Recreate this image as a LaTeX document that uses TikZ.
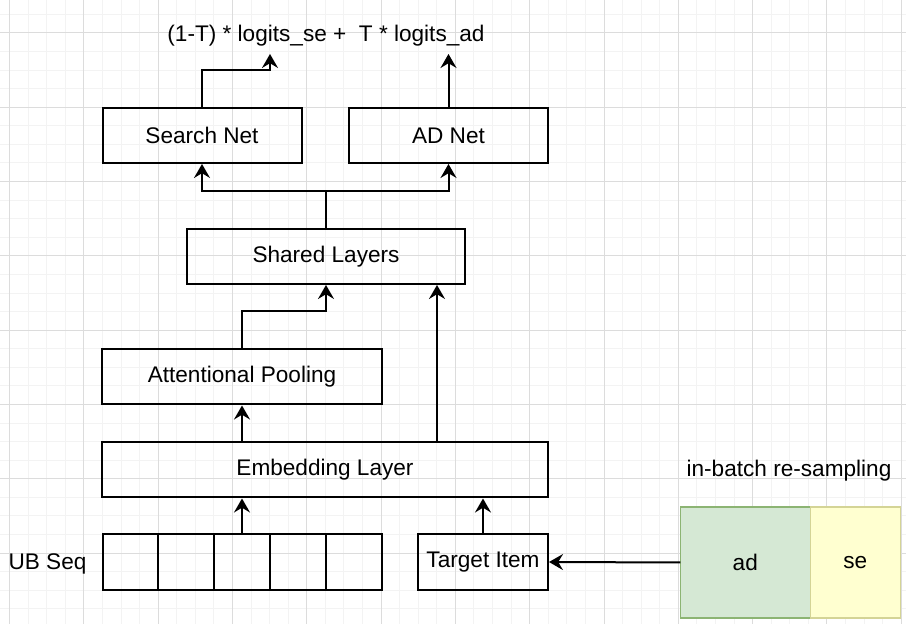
\documentclass[tikz,border=0pt]{standalone}
\usepackage{fontspec}
\setmainfont{Liberation Sans}
\definecolor{gridminor}{RGB}{243,243,243}
\definecolor{gridmajor}{RGB}{220,220,220}
\definecolor{adgreen}{RGB}{213,232,212}
\definecolor{adline}{RGB}{140,180,115}
\definecolor{seyellow}{RGB}{255,255,208}
\definecolor{seline}{RGB}{212,212,150}
\usetikzlibrary{positioning, arrows.meta}

\begin{document}
\begin{tikzpicture}[x=0.5pt, y=-0.5pt,
  layer/.style={draw, line width=1pt, inner sep=0pt, minimum height=27.5pt,
    font=\fontsize{11.3}{13}\selectfont},
  cell/.style={draw, line width=1pt, inner sep=0pt, outer sep=0pt,
    minimum width=27.9pt, minimum height=28pt},
  sample/.style={draw, line width=0.8pt, inner sep=0pt, outer sep=0pt,
    minimum height=55.5pt, font=\fontsize{11.3}{13}\selectfont},
  plain/.style={inner sep=0pt, font=\fontsize{11.3}{13}\selectfont},
  arr/.style={-{Stealth[length=7pt, width=8pt, inset=2.4pt]}, line width=1pt},
]
% Background grid
\useasboundingbox (0,0) rectangle (906,624);
\fill[white] (0,0) rectangle (906,624);
\foreach \gx in {9.6,28.175,...,906} \draw[gridminor, line width=0.5pt] (\gx,0) -- (\gx,624);
\foreach \gy in {14.4,32.975,...,624} \draw[gridminor, line width=0.5pt] (0,\gy) -- (906,\gy);
\foreach \gx in {9.6,83.9,...,906} \draw[gridmajor, line width=0.5pt] (\gx,0) -- (\gx,624);
\foreach \gy in {33,107.3,...,624} \draw[gridmajor, line width=0.5pt] (0,\gy) -- (906,\gy);

% Output
\node[plain] (mix) at (326,36) {(1-T) * logits\_se +\ \ T * logits\_ad};
\coordinate (outse) at (270,54);
\coordinate (outad) at (448.5,54);

% Towers
\node[layer, minimum width=99.5pt] (search) at (202,135.5) {Search Net};
\node[layer, minimum width=99.5pt] (adnet) at (448.5,135.5) {AD Net};
\node[layer, minimum width=139pt] (shared) at (326,256.5) {Shared Layers};
\node[layer, minimum width=140pt] (pool) at (242,377) {Attentional Pooling};
\node[layer, minimum width=223pt] (embed) at (325,470) {Embedding Layer};

% Inputs
\node[cell] (c1) at (130.4,562) {};
\node[cell, right=0pt of c1] (c2) {};
\node[cell, right=0pt of c2] (c3) {};
\node[cell, right=0pt of c3] (c4) {};
\node[cell, right=0pt of c4] (c5) {};
\node[plain] (ubseq) at (47.5,564) {UB Seq};
\node[layer, minimum width=65pt, minimum height=28pt] (target) at (483,562) {Target Item};

% Re-sampling
\node[sample, fill=adgreen, draw=adline, minimum width=65pt] (ad) at (745.3,562.5) {ad};
\node[sample, fill=seyellow, draw=seline, minimum width=45pt, right=0pt of ad] (se) {se};
\node[plain] (resample) at (789,471) {in-batch re-sampling};

% Arrows
\draw[arr] (search.north) -- ++(0,-37) -| (outse);
\draw[arr] (adnet.north) -- (outad);
\draw[arr] (shared.north) -- ++(0,-37) -| (search.south);
\draw[arr] (shared.north) -- ++(0,-37) -| (adnet.south);
\draw[arr] (pool.north) -- ++(0,-37) -| (shared.south);
\draw[arr] ([xshift=56pt]embed.north) -- ([xshift=56pt]embed.north |- shared.south);
\draw[arr] (embed.north -| pool.south) -- (pool.south);
\draw[arr] (c3.north) -- (c3.north |- embed.south);
\draw[arr] (target.north) -- (target.north |- embed.south);
\draw[arr] (ad.west) -- (target.east);
\end{tikzpicture}
\end{document}
